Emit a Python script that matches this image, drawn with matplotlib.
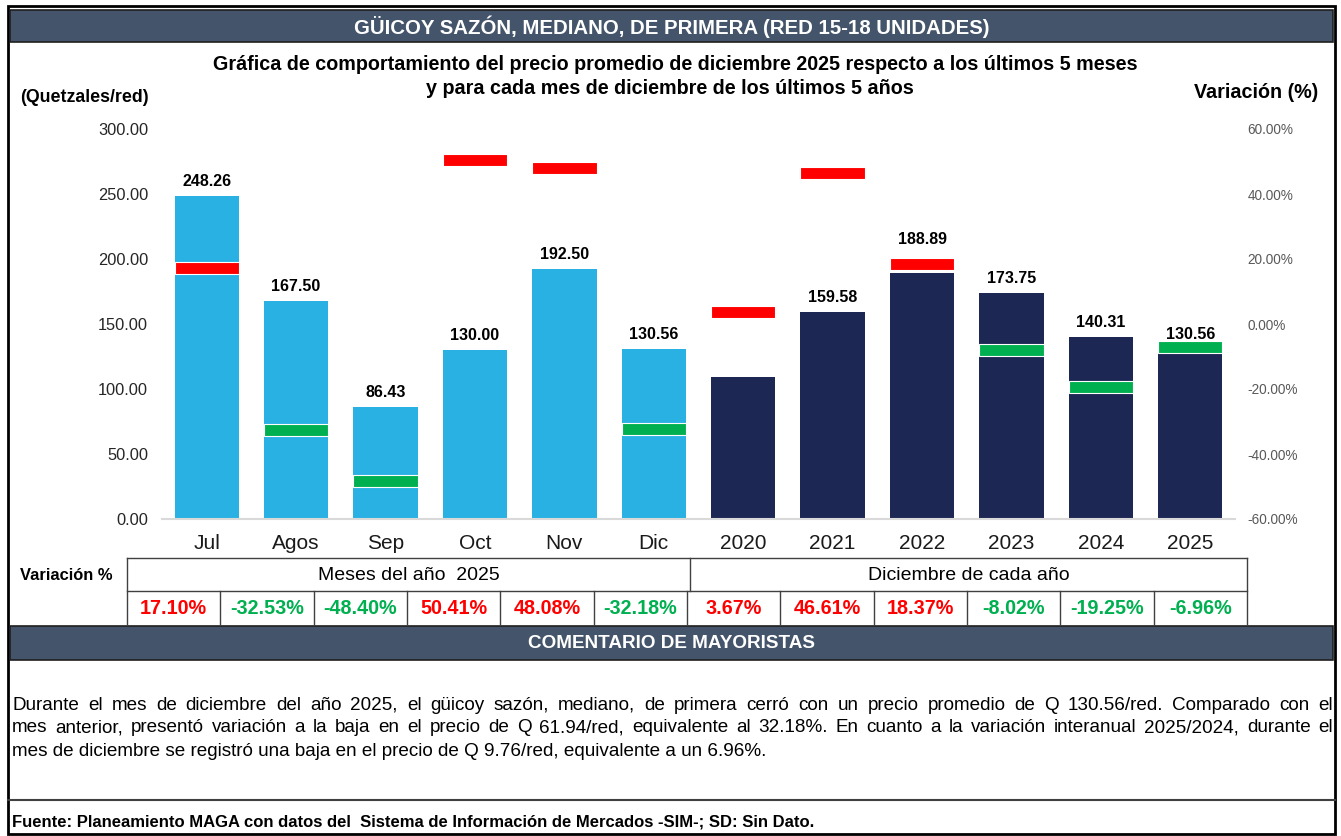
import matplotlib
matplotlib.use("Agg")
import matplotlib.pyplot as plt
from matplotlib.patches import Rectangle
from matplotlib.lines import Line2D

# Data
categories = ["Jul", "Agos", "Sep", "Oct", "Nov", "Dic",
              "2020", "2021", "2022", "2023", "2024", "2025"]
prices = [248.26, 167.50, 86.43, 130.00, 192.50, 130.56,
          108.85, 159.58, 188.89, 173.75, 140.31, 130.56]
price_labels = ["248.26", "167.50", "86.43", "130.00", "192.50", "130.56",
                "", "159.58", "188.89", "173.75", "140.31", "130.56"]
variations = [17.10, -32.53, -48.40, 50.41, 48.08, -32.18,
              3.67, 46.61, 18.37, -8.02, -19.25, -6.96]
left_ticks = [0, 50, 100, 150, 200, 250, 300]
right_ticks = [-60, -40, -20, 0, 20, 40, 60]
group_names = ["Meses del año  2025", "Diciembre de cada año"]

header = "GÜICOY SAZÓN, MEDIANO, DE PRIMERA (RED 15-18 UNIDADES)"
title_lines = ["Gráfica de comportamiento del precio promedio de diciembre 2025 respecto a los últimos 5 meses",
               "y para cada mes de diciembre de los últimos 5 años"]
comment_lines = [
    "Durante el mes de diciembre del año 2025, el güicoy sazón, mediano, de primera cerró con un precio promedio de Q 130.56/red. Comparado con el",
    "mes anterior, presentó variación a la baja en el precio de Q 61.94/red, equivalente al 32.18%. En cuanto a la variación interanual 2025/2024, durante el",
    "mes de diciembre se registró una baja en el precio de Q 9.76/red, equivalente a un 6.96%.",
]
footer = "Fuente: Planeamiento MAGA con datos del  Sistema de Información de Mercados -SIM-; SD: Sin Dato."

# Colours
SLATE = "#44546A"
LIGHT = "#29B1E4"
NAVY = "#1C2754"
RED = "#FF0000"
GREEN = "#00B050"

plt.rcParams["font.family"] = ["Liberation Sans", "DejaVu Sans"]

W, H = 1341, 836
fig = plt.figure(figsize=(W / 100, H / 100), dpi=100)


def fx(x):
    return x / W


def fy(y):
    return 1 - y / H


def ftext(x, y, s, **kw):
    return fig.text(fx(x), fy(y), s, **kw)


def hline(x0, x1, y, **kw):
    fig.add_artist(Line2D([fx(x0), fx(x1)], [fy(y), fy(y)], **kw))


def vline(x, y0, y1, **kw):
    fig.add_artist(Line2D([fx(x), fx(x)], [fy(y0), fy(y1)], **kw))


def band(x0, y0, x1, y1, text, size):
    fig.add_artist(Rectangle((fx(x0), fy(y1)), fx(x1 - x0), (y1 - y0) / H,
                             facecolor=SLATE, edgecolor="#1F1F1F", lw=1.2))
    ftext((x0 + x1) / 2, (y0 + y1) / 2 + 1, text, color="white", fontsize=size,
          fontweight="bold", ha="center", va="center")


# Outer frame
fig.add_artist(Rectangle((fx(8), fy(834)), fx(1327), 828 / H,
                         facecolor="none", edgecolor="black", lw=2))

band(10, 10, 1333, 42, header, 14.7)
ftext(675, 64, title_lines[0], fontsize=14.25, fontweight="bold", ha="center", va="center")
ftext(670, 89, title_lines[1], fontsize=14.25, fontweight="bold", ha="center", va="center")
ftext(20, 97, "(Quetzales/red)", fontsize=12.8, fontweight="bold", va="center")
ftext(1318, 92, "Variación (%)", fontsize=14.2, fontweight="bold", ha="right", va="center")

# Chart
ax = fig.add_axes([fx(162), fy(519), fx(1235 - 162), (519 - 129) / H])
ax2 = ax.twinx()
x = list(range(len(categories)))
colors = [LIGHT] * 6 + [NAVY] * 6
ax.bar(x, prices, width=0.72, color=colors)
ax.set_xlim(-0.5, len(categories) - 0.5)
ax.set_ylim(0, 300)
ax.set_yticks(left_ticks)
ax.set_yticklabels([f"{v:.2f}" for v in left_ticks], fontsize=11.8, color="#262626")
ax.set_xticks(x)
ax.set_xticklabels(categories, fontsize=15, color="#1A1A1A")
ax.tick_params(axis="both", length=0)
ax.tick_params(axis="x", pad=11)
ax.tick_params(axis="y", pad=10)

mark_h = 3.7
mark_colors = [RED if v > 0 else GREEN for v in variations]
ax2.bar(x, [mark_h] * len(x), width=0.72,
        bottom=[v - mark_h / 2 for v in variations], color=mark_colors,
        edgecolor="white", linewidth=0.8)
ax2.set_ylim(-60, 60)
ax2.set_yticks(right_ticks)
ax2.set_yticklabels([f"{v:.2f}%" for v in right_ticks], fontsize=9.8, color="#595959")
ax2.tick_params(axis="y", length=0, pad=9)


def to_price(v):
    # map a value on the % axis to the price axis
    return ax.transData.inverted().transform(ax2.transData.transform((0, v)))[1]


# Price labels sit above the bar, or above a red marker resting right on top of it
for i, (p, lab) in enumerate(zip(prices, price_labels)):
    top = p
    m_bot = to_price(variations[i] - mark_h / 2)
    if variations[i] > 0 and p - 2 <= m_bot <= p + 15:
        top = to_price(variations[i] + mark_h / 2) + 3
    ax.annotate(lab, (i, top), xytext=(0, 5), textcoords="offset points",
                ha="center", va="bottom", fontsize=11.5, fontweight="bold")

for a in (ax, ax2):
    for side in ("top", "left", "right", "bottom"):
        a.spines[side].set_visible(False)
ax.spines["bottom"].set_visible(True)
ax.spines["bottom"].set_color("#D9D9D9")
ax.spines["bottom"].set_linewidth(1.5)

# Variation table
t_x0, t_x1, t_split = 127, 1247, 690
t_y0, t_y1, t_y2 = 558, 591, 625
cell_w = (t_x1 - t_x0) / len(categories)
lk = dict(color="#404040", lw=1)
hline(t_x0, t_x1, t_y0, **lk)
hline(t_x0, t_x1, t_y1, **lk)
vline(t_x0, t_y0, t_y2, **lk)
vline(t_x1, t_y0, t_y2, **lk)
vline(t_split, t_y0, t_y1, **lk)
for i in range(1, len(categories)):
    vline(t_x0 + i * cell_w, t_y1, t_y2, **lk)
ftext(20, 576, "Variación %", fontsize=11.9, fontweight="bold", va="center")
ftext((t_x0 + t_split) / 2, (t_y0 + t_y1) / 2 + 1, group_names[0],
      fontsize=14, ha="center", va="center")
ftext((t_split + t_x1) / 2, (t_y0 + t_y1) / 2 + 1, group_names[1],
      fontsize=14, ha="center", va="center")
for i, v in enumerate(variations):
    ftext(t_x0 + (i + 0.5) * cell_w, (t_y1 + t_y2) / 2 + 1, f"{v:.2f}%",
          fontsize=14.2, fontweight="bold", color=mark_colors[i], ha="center", va="center")

band(10, 626, 1333, 660, "COMENTARIO DE MAYORISTAS", 13.6)

# Justified comment text
renderer = fig.canvas.get_renderer()
left, right = 12, 1333
for n, line in enumerate(comment_lines):
    yy = 705 + n * 23
    words = line.split(" ")
    if n == len(comment_lines) - 1:
        ftext(left, yy, line, fontsize=13.6, va="center")
        continue
    arts = [ftext(0, yy, w, fontsize=13.6, va="center") for w in words]
    widths = [a.get_window_extent(renderer).width for a in arts]
    gap = (right - left - sum(widths)) / (len(words) - 1)
    pos = left
    for a, wd in zip(arts, widths):
        a.set_x(fx(pos))
        pos += wd + gap

hline(8, 1335, 800, color="#404040", lw=1.5)
ftext(12, 822, footer, fontsize=12, fontweight="bold", va="center")

fig.savefig("out.png", dpi=100)
